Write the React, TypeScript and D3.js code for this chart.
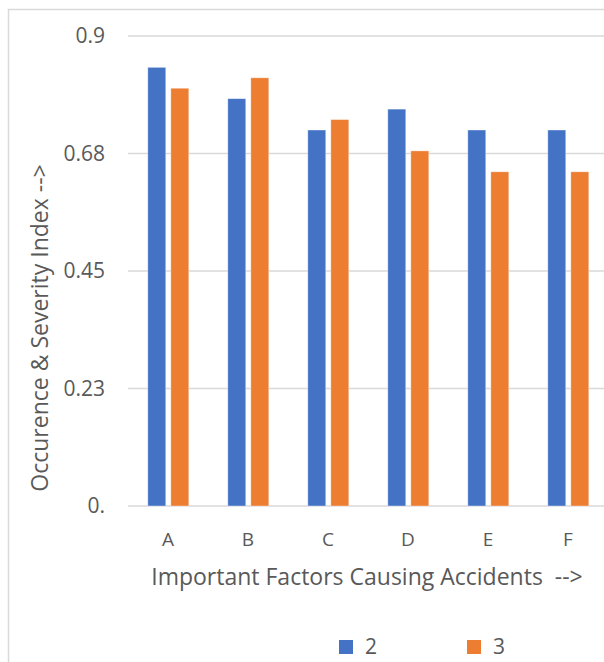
import React from "react";
import * as d3 from "d3";

const categories = ["A", "B", "C", "D", "E", "F"];
const seriesNames = ["2", "3"];
const series2 = [0.84, 0.78, 0.72, 0.76, 0.72, 0.72];
const series3 = [0.8, 0.82, 0.74, 0.68, 0.64, 0.64];
const tickValues = [0, 0.225, 0.45, 0.675, 0.9];
const tickLabels = ["0.", "0.23", "0.45", "0.68", "0.9"];
const colors = ["#4472C4", "#ED7D31"];

const W = 604;
const H = 662;
const FONT = "'Open Sans', 'Noto Sans', sans-serif";
const TXT = "#595959";

export default function App() {
  const x0 = d3.scaleBand<string>().domain(categories).range([128, 608]).padding(0);
  const groupW = 41;
  const x1 = d3.scaleBand<string>().domain(seriesNames).range([0, groupW]).paddingInner(0.22);
  const y = d3.scaleLinear().domain([0, 0.9]).range([506, 36]);
  const data = [series2, series3];

  return (
    <svg width={W} height={H} style={{ position: "absolute", left: 0, top: 0, background: "#fff" }} fontFamily={FONT}>
      <rect x={8.5} y={9.5} width={800} height={800} fill="#fff" stroke="#d9d9d9" strokeWidth={1.5} />
      {tickValues.map((t, i) => (
        <g key={i}>
          <line x1={128} x2={608} y1={y(t)} y2={y(t)} stroke="#d9d9d9" strokeWidth={1.5} />
          <text x={105} y={y(t)} dy="0.35em" textAnchor="end" fontSize={21} fill={TXT}>
            {tickLabels[i]}
          </text>
        </g>
      ))}
      {categories.map((c, ci) => {
        const cx = x0(c)! + x0.bandwidth() / 2;
        return (
          <g key={c}>
            {seriesNames.map((s, si) => {
              const v = data[si][ci];
              const bx = cx - groupW / 2 + 0.3 + x1(s)!;
              return (
                <rect
                  key={s}
                  x={bx}
                  y={y(v)}
                  width={x1.bandwidth()}
                  height={y(0) - y(v)}
                  fill={colors[si]}
                  stroke="#fff"
                  strokeOpacity={0.5}
                  strokeWidth={0.75}
                />
              );
            })}
            <text x={cx} y={545.5} textAnchor="middle" fontSize={19} fill={TXT}>
              {c}
            </text>
          </g>
        );
      })}
      <text x={367} y={585} textAnchor="middle" fontSize={23} fill={TXT} style={{ whiteSpace: "pre" }}>
        {"Important Factors Causing Accidents  -->"}
      </text>
      <text
        transform="translate(48,328) rotate(-90)"
        textAnchor="middle"
        fontSize={23}
        fill={TXT}
      >
        {"Occurence & Severity Index -->"}
      </text>
      {seriesNames.map((s, si) => {
        const lx = [339, 467][si];
        return (
          <g key={s}>
            <rect x={lx} y={640} width={14} height={14} fill={colors[si]} />
            <text x={lx + 26} y={654} fontSize={21} fill={TXT}>
              {s}
            </text>
          </g>
        );
      })}
    </svg>
  );
}
